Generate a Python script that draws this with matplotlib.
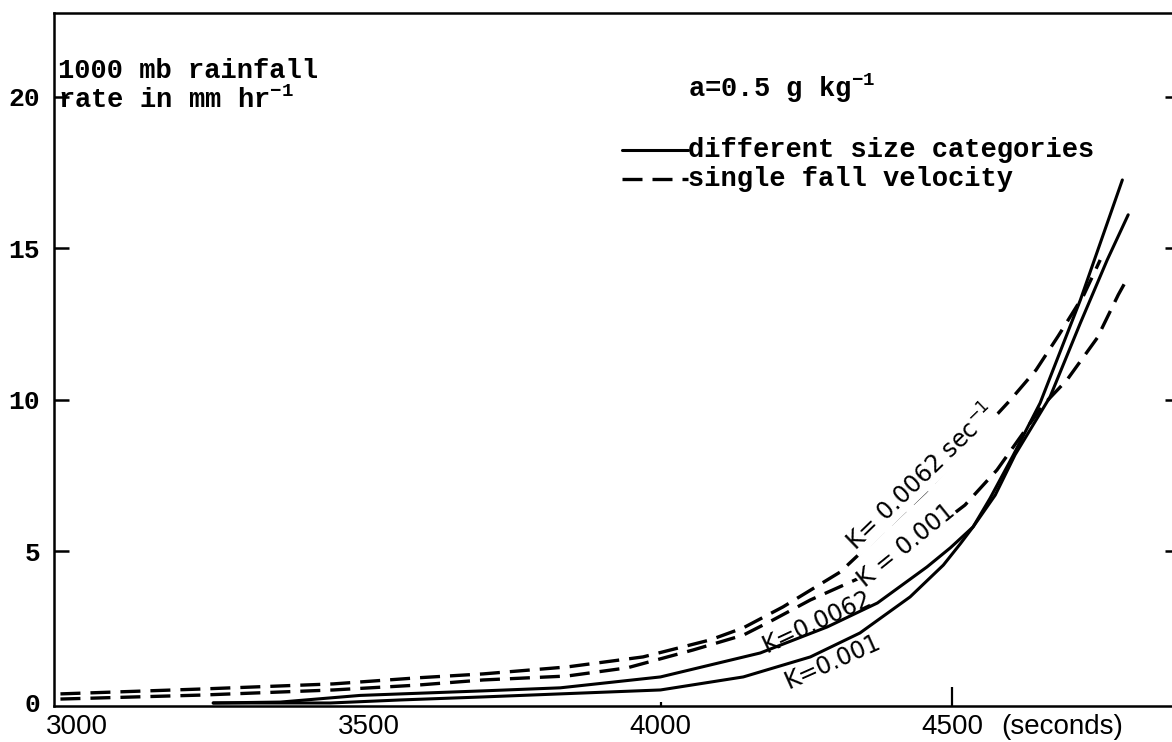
from __future__ import annotations

import matplotlib

matplotlib.use("Agg")
from matplotlib import pyplot as plt

# 1000 mb rainfall rate (mm/hr) against time (s)
# solid lines: different size categories
time_sizes_k0062 = [3233, 3348, 3485, 3696, 3828, 4000, 4171, 4286, 4372, 4457, 4497, 4536, 4574, 4608, 4668, 4720, 4766, 4802]
rate_sizes_k0062 = [0.0, 0.03, 0.25, 0.40, 0.50, 0.86, 1.65, 2.51, 3.30, 4.49, 5.12, 5.81, 6.86, 8.19, 10.1, 12.54, 14.62, 16.11]

time_sizes_k001 = [3233, 3434, 3554, 3696, 3828, 4000, 4142, 4257, 4342, 4428, 4485, 4514, 4536, 4565, 4605, 4651, 4720, 4792]
rate_sizes_k001 = [0.0, 0.0, 0.10, 0.20, 0.30, 0.43, 0.86, 1.52, 2.31, 3.50, 4.55, 5.25, 5.81, 6.75, 8.18, 9.90, 13.3, 17.26]

# dashed lines: single fall velocity
time_single_k0062 = [2971, 3211, 3439, 3583, 3696, 3840, 3970, 4085, 4142, 4210, 4308, 4454, 4600, 4644, 4682, 4726, 4754]
rate_single_k0062 = [0.30, 0.46, 0.63, 0.83, 0.96, 1.19, 1.52, 2.08, 2.48, 3.17, 4.32, 6.96, 10.0, 10.99, 12.11, 13.47, 14.62]

time_single_k001 = [2971, 3211, 3439, 3583, 3696, 3840, 3943, 4056, 4142, 4193, 4257, 4342, 4432, 4522, 4577, 4656, 4697, 4749, 4785, 4802]
rate_single_k001 = [0.13, 0.26, 0.43, 0.59, 0.76, 0.89, 1.16, 1.75, 2.24, 2.74, 3.40, 4.13, 5.21, 6.53, 7.69, 9.83, 10.66, 12.05, 13.47, 14.06]

x_ticks = [3000, 3500, 4000, 4500]
x_tick_labels = ["3000", "3500", "4000", "4500"]
y_ticks = [0, 5, 10, 15, 20]
y_tick_labels = ["0", "5", "10", "15", "20"]

TYPEWRITER = ["Liberation Mono", "DejaVu Sans Mono"]
PRINTED = ["Liberation Sans", "DejaVu Sans"]
HAND = ["DejaVu Sans"]


def draw() -> None:
    fig = plt.figure(figsize=(11.72, 7.42), dpi=100)
    ax = fig.add_axes([0.0461, 0.0485, 0.9608, 0.9340])

    solid = dict(color="black", lw=2.2, solid_capstyle="round", solid_joinstyle="round")
    dashed = dict(color="black", lw=2.4, ls=(0, (6, 3)))

    line_sizes, = ax.plot(time_sizes_k0062, rate_sizes_k0062, **solid)
    ax.plot(time_sizes_k001, rate_sizes_k001, **solid)
    line_single, = ax.plot(time_single_k0062, rate_single_k0062, **dashed)
    ax.plot(time_single_k001, rate_single_k001, **dashed)

    ax.set_xlim(2960, 4891)
    ax.set_ylim(-0.1, 22.77)

    for side in ("left", "top", "bottom"):
        ax.spines[side].set_linewidth(1.8)
    ax.spines["right"].set_visible(False)

    ax.set_xticks(x_ticks, labels=x_tick_labels, fontfamily=PRINTED, fontsize=20)
    ax.set_yticks(y_ticks, labels=y_tick_labels, fontfamily=TYPEWRITER,
                  fontweight="bold", fontsize=19)
    ax.tick_params(axis="x", direction="in", length=14, width=1.6, pad=6)
    ax.tick_params(axis="y", direction="in", left=True, right=True,
                   length=11, width=1.8, pad=10)

    # only the 4000 and 4500 marks show on the time axis, none at zero rate
    xticks = ax.xaxis.get_major_ticks()
    xticks[0].tick1line.set_visible(False)
    xticks[1].tick1line.set_visible(False)
    xticks[2].tick1line.set_markersize(3)
    yticks = ax.yaxis.get_major_ticks()
    yticks[0].tick1line.set_visible(False)
    yticks[0].tick2line.set_visible(False)

    ax.text(4585, -1.02, "(seconds)", fontfamily=PRINTED, fontsize=20,
            ha="left", va="baseline")

    typed = dict(fontfamily=TYPEWRITER, fontweight="bold", fontsize=19.5,
                 ha="left", va="baseline")
    ax.text(2966, 20.62, "1000 mb rainfall", **typed)
    ax.text(2966, 19.62, r"rate in mm hr$\mathregular{^{-1}}$", **typed)
    ax.text(4047, 20.0, r"a=0.5 g kg$\mathregular{^{-1}}$", **typed)

    ax.legend(
        [line_sizes, line_single],
        ["different size categories", "single fall velocity"],
        loc="upper left",
        bbox_to_anchor=(0.5044, 0.821),
        frameon=False,
        prop=dict(family=TYPEWRITER, weight="bold", size=19.5),
        handlelength=2.44,
        handletextpad=0.0,
        handleheight=0.2,
        labelspacing=0.12,
        borderpad=0.0,
        borderaxespad=0.0,
    )

    # handwritten curve labels
    hand = dict(fontfamily=HAND, fontsize=17, ha="center", va="center")
    cover = dict(facecolor="white", edgecolor="none", pad=0.5)
    ax.text(4447, 7.43, r"K= 0.0062 sec$^{-1}$", rotation=44, bbox=cover, **hand)
    ax.text(4421, 5.21, "K = 0.001", rotation=39, bbox=cover, **hand)
    ax.text(4269, 2.67, "K=0.0062", rotation=25, **hand)
    ax.text(4296, 1.35, "K=0.001", rotation=24, **hand)

    fig.savefig("out.png", dpi=100)


def main() -> None:
    draw()


if __name__ == "__main__":
    main()
